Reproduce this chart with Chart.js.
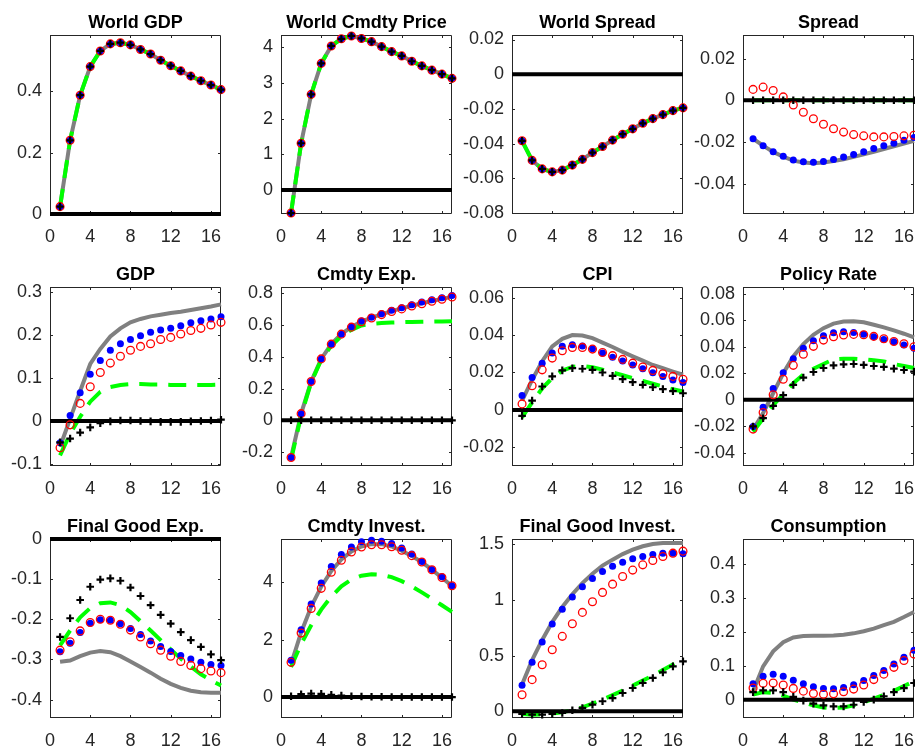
<!DOCTYPE html>
<html>
<head>
<meta charset="utf-8">
<script src="https://cdn.jsdelivr.net/npm/chart.js@4.4.0/dist/chart.umd.min.js"></script>
<style>
  html, body { margin: 0; padding: 0; background: #fff; overflow: hidden; }
  #fig { position: relative; width: 915px; height: 749px; overflow: hidden; }
  #fig canvas { position: absolute; }
</style>
</head>
<body>
<div id="fig"></div>
<script>
// Impulse responses, quarters 1..17
const periods = [1, 2, 3, 4, 5, 6, 7, 8, 9, 10, 11, 12, 13, 14, 15, 16, 17];
const xTicks = [0, 4, 8, 12, 16];
const xLimits = [0, 17];

// World block: all model variants coincide
const worldGdp = [0.024, 0.24, 0.387, 0.48, 0.531, 0.554, 0.558, 0.551, 0.536, 0.521, 0.501, 0.483, 0.466, 0.449, 0.434, 0.42, 0.405];
const worldCmdtyPrice = [-0.65, 1.31, 2.68, 3.55, 4.04, 4.24, 4.32, 4.25, 4.16, 4.02, 3.88, 3.76, 3.61, 3.48, 3.36, 3.25, 3.13];
const worldSpread = [-0.0384, -0.0497, -0.0546, -0.0563, -0.0553, -0.0524, -0.0491, -0.0452, -0.0417, -0.038, -0.0346, -0.0315, -0.0283, -0.0256, -0.0233, -0.021, -0.0194];

// Spread
const spreadGrey = [-0.0185, -0.0218, -0.0248, -0.0271, -0.029, -0.0299, -0.0302, -0.0299, -0.0292, -0.0283, -0.0272, -0.026, -0.0247, -0.0234, -0.0221, -0.0208, -0.0195];
const spreadBlue = [-0.0185, -0.0218, -0.0247, -0.0269, -0.0287, -0.0295, -0.0298, -0.0294, -0.0284, -0.0273, -0.026, -0.0247, -0.0232, -0.0219, -0.0206, -0.0192, -0.0179];
const spreadRed = [0.0052, 0.0063, 0.0047, 0.0016, -0.0023, -0.0058, -0.0089, -0.0115, -0.0137, -0.0153, -0.0165, -0.0171, -0.0176, -0.0176, -0.0174, -0.0171, -0.0168];
const spreadGreen = [0, 0, 0, 0, 0, 0, 0, 0, 0, 0, 0, 0, 0, 0, 0, 0, 0];
const spreadBlack = [0, 0, 0, 0, 0, 0, 0, 0, 0, 0, 0, 0, 0, 0, 0, 0, 0];

// GDP
const gdpGrey = [-0.06, 0.005, 0.07, 0.133, 0.168, 0.197, 0.216, 0.23, 0.238, 0.244, 0.248, 0.252, 0.255, 0.259, 0.263, 0.267, 0.272];
const gdpBlue = [-0.051, 0.0125, 0.066, 0.109, 0.141, 0.165, 0.18, 0.19, 0.199, 0.207, 0.212, 0.216, 0.222, 0.229, 0.234, 0.238, 0.243];
const gdpRed = [-0.0625, -0.009, 0.041, 0.08, 0.113, 0.135, 0.151, 0.165, 0.174, 0.18, 0.19, 0.195, 0.203, 0.211, 0.216, 0.224, 0.23];
const gdpGreen = [-0.08, -0.03, 0.01, 0.045, 0.068, 0.079, 0.084, 0.086, 0.086, 0.085, 0.085, 0.084, 0.084, 0.084, 0.084, 0.084, 0.085];
const gdpBlack = [-0.05, -0.041, -0.027, -0.015, -0.005, -0.001, 0.001, 0.001, 0, -0.001, -0.002, -0.002, -0.002, -0.001, 0, 0.001, 0.003];

// Commodity exports
const cmdtyExpGrey = [-0.234, 0.042, 0.244, 0.387, 0.48, 0.543, 0.589, 0.622, 0.647, 0.668, 0.688, 0.705, 0.722, 0.738, 0.752, 0.765, 0.778];
const cmdtyExpBlue = [-0.234, 0.042, 0.244, 0.387, 0.48, 0.543, 0.589, 0.625, 0.65, 0.672, 0.693, 0.709, 0.728, 0.745, 0.76, 0.773, 0.787];
const cmdtyExpRed = [-0.234, 0.042, 0.244, 0.387, 0.48, 0.543, 0.587, 0.621, 0.645, 0.666, 0.686, 0.702, 0.72, 0.735, 0.75, 0.763, 0.777];
const cmdtyExpGreen = [-0.25, 0.03, 0.24, 0.38, 0.47, 0.53, 0.57, 0.598, 0.608, 0.613, 0.616, 0.618, 0.62, 0.621, 0.622, 0.623, 0.624];
const cmdtyExpBlack = [0, 0, 0, 0, 0, 0, 0, 0, 0, 0, 0, 0, 0, 0, 0, 0, 0];

// CPI
const cpiGrey = [0.005, 0.016, 0.026, 0.034, 0.038, 0.04, 0.0398, 0.0384, 0.036, 0.0336, 0.031, 0.0286, 0.0263, 0.024, 0.0223, 0.0205, 0.0188];
const cpiBlue = [0.0077, 0.0173, 0.025, 0.0304, 0.034, 0.0348, 0.0341, 0.0327, 0.0304, 0.0282, 0.0262, 0.024, 0.022, 0.0198, 0.0179, 0.016, 0.0146];
const cpiRed = [0.0032, 0.0129, 0.0214, 0.0277, 0.0316, 0.0334, 0.0334, 0.0325, 0.0307, 0.029, 0.027, 0.025, 0.0229, 0.0211, 0.0193, 0.0179, 0.0164];
const cpiGreen = [-0.004, 0.004, 0.0115, 0.017, 0.021, 0.023, 0.0235, 0.0228, 0.0215, 0.02, 0.0185, 0.017, 0.0155, 0.014, 0.0125, 0.011, 0.0098];
const cpiBlack = [-0.0032, 0.005, 0.0125, 0.0179, 0.0211, 0.0223, 0.022, 0.0214, 0.02, 0.0182, 0.0164, 0.0148, 0.0134, 0.0121, 0.0111, 0.01, 0.0089];

// Policy rate
const policyGrey = [-0.0226, -0.01, 0.005, 0.02, 0.0327, 0.042, 0.049, 0.054, 0.0574, 0.059, 0.0592, 0.0584, 0.0566, 0.0546, 0.0523, 0.0498, 0.047];
const policyBlue = [-0.02, -0.0055, 0.0085, 0.0205, 0.031, 0.0388, 0.0445, 0.0483, 0.0505, 0.0513, 0.0508, 0.0495, 0.0475, 0.0455, 0.0438, 0.0413, 0.0388];
const policyRed = [-0.022, -0.0095, 0.0038, 0.0155, 0.026, 0.0343, 0.0403, 0.045, 0.0475, 0.0488, 0.0493, 0.049, 0.0478, 0.046, 0.044, 0.0423, 0.04];
const policyGreen = [-0.024, -0.014, -0.004, 0.004, 0.0125, 0.019, 0.0235, 0.027, 0.0305, 0.031, 0.031, 0.0305, 0.0298, 0.029, 0.027, 0.0255, 0.024];
const policyBlack = [-0.02, -0.0138, -0.0045, 0.0035, 0.0113, 0.0168, 0.021, 0.024, 0.026, 0.0268, 0.027, 0.0263, 0.0255, 0.0248, 0.0235, 0.0225, 0.0213];

// Final good exports
const fgExpGrey = [-0.306, -0.303, -0.292, -0.283, -0.279, -0.282, -0.292, -0.305, -0.319, -0.333, -0.348, -0.361, -0.371, -0.378, -0.382, -0.383, -0.383];
const fgExpBlue = [-0.281, -0.26, -0.233, -0.21, -0.201, -0.2025, -0.211, -0.223, -0.238, -0.254, -0.268, -0.28, -0.29, -0.299, -0.307, -0.3125, -0.315];
const fgExpRed = [-0.277, -0.256, -0.229, -0.208, -0.2, -0.2025, -0.2125, -0.227, -0.244, -0.261, -0.277, -0.292, -0.305, -0.315, -0.323, -0.329, -0.333];
const fgExpGreen = [-0.265, -0.228, -0.195, -0.172, -0.16, -0.158, -0.165, -0.182, -0.205, -0.228, -0.252, -0.275, -0.298, -0.318, -0.337, -0.352, -0.365];
const fgExpBlack = [-0.244, -0.1975, -0.152, -0.119, -0.101, -0.098, -0.104, -0.121, -0.142, -0.165, -0.189, -0.211, -0.232, -0.252, -0.269, -0.2875, -0.302];

// Commodity investment
const cmdtyInvGrey = [1.15, 2.25, 3.15, 3.85, 4.4, 4.8, 5.08, 5.25, 5.33, 5.33, 5.25, 5.1, 4.92, 4.7, 4.44, 4.16, 3.87];
const cmdtyInvBlue = [1.28, 2.35, 3.24, 3.98, 4.55, 4.97, 5.23, 5.41, 5.47, 5.43, 5.35, 5.2, 4.99, 4.73, 4.45, 4.19, 3.88];
const cmdtyInvRed = [1.21, 2.23, 3.09, 3.79, 4.35, 4.77, 5.06, 5.23, 5.31, 5.31, 5.24, 5.12, 4.93, 4.71, 4.44, 4.17, 3.88];
const cmdtyInvGreen = [1.05, 1.85, 2.5, 3.05, 3.5, 3.86, 4.1, 4.23, 4.28, 4.26, 4.18, 4.04, 3.86, 3.65, 3.43, 3.2, 2.97];
const cmdtyInvBlack = [0.03, 0.1, 0.12, 0.11, 0.08, 0.05, 0.03, 0.02, 0.01, 0.01, 0, 0, 0, 0, 0, 0, 0];

// Final good investment
const fgInvGrey = [0.24, 0.46, 0.64, 0.8, 0.935, 1.05, 1.15, 1.234, 1.306, 1.36, 1.41, 1.45, 1.48, 1.5, 1.51, 1.51, 1.51];
const fgInvBlue = [0.233, 0.439, 0.621, 0.782, 0.916, 1.024, 1.116, 1.191, 1.254, 1.301, 1.337, 1.367, 1.388, 1.406, 1.418, 1.418, 1.412];
const fgInvRed = [0.149, 0.284, 0.418, 0.552, 0.672, 0.785, 0.887, 0.982, 1.066, 1.14, 1.209, 1.266, 1.313, 1.352, 1.388, 1.418, 1.436];
const fgInvGreen = [-0.025, -0.03, -0.028, -0.02, -0.008, 0.01, 0.035, 0.07, 0.105, 0.145, 0.185, 0.23, 0.275, 0.32, 0.37, 0.42, 0.475];
const fgInvBlack = [-0.024, -0.03, -0.03, -0.024, -0.015, 0.009, 0.03, 0.06, 0.09, 0.119, 0.164, 0.209, 0.254, 0.299, 0.349, 0.403, 0.448];

// Consumption
const consGrey = [0.025, 0.098, 0.142, 0.169, 0.183, 0.187, 0.188, 0.188, 0.189, 0.191, 0.195, 0.201, 0.209, 0.219, 0.229, 0.243, 0.258];
const consBlue = [0.047, 0.069, 0.075, 0.069, 0.057, 0.047, 0.038, 0.033, 0.032, 0.036, 0.044, 0.056, 0.071, 0.086, 0.105, 0.125, 0.145];
const consRed = [0.034, 0.048, 0.049, 0.043, 0.033, 0.025, 0.018, 0.016, 0.017, 0.023, 0.031, 0.043, 0.059, 0.075, 0.095, 0.115, 0.134];
const consGreen = [0.015, 0.022, 0.02, 0.012, 0, -0.008, -0.017, -0.023, -0.025, -0.023, -0.017, -0.008, 0.003, 0.014, 0.026, 0.04, 0.054];
const consBlack = [0.022, 0.027, 0.027, 0.022, 0.008, -0.003, -0.012, -0.017, -0.02, -0.02, -0.015, -0.007, 0, 0.01, 0.022, 0.034, 0.049];

// y-axis ticks and limits per panel
const worldGdpTicks = [0, 0.2, 0.4];                        const worldGdpLim = [0, 0.583];
const worldCmdtyTicks = [0, 1, 2, 3, 4];                    const worldCmdtyLim = [-0.676, 4.347];
const worldSpreadTicks = [-0.08, -0.06, -0.04, -0.02, 0, 0.02]; const worldSpreadLim = [-0.0806, 0.0226];
const spreadTicks = [-0.04, -0.02, 0, 0.02];                const spreadLim = [-0.0546, 0.0313];
const gdpTicks = [-0.1, 0, 0.1, 0.2, 0.3];                  const gdpLim = [-0.105, 0.3125];
const cmdtyExpTicks = [-0.2, 0, 0.2, 0.4, 0.6, 0.8];        const cmdtyExpLim = [-0.288, 0.84];
const cpiTicks = [-0.02, 0, 0.02, 0.04, 0.06];              const cpiLim = [-0.03, 0.0657];
const policyTicks = [-0.04, -0.02, 0, 0.02, 0.04, 0.06, 0.08]; const policyLim = [-0.0498, 0.085];
const fgExpTicks = [-0.4, -0.3, -0.2, -0.1, 0];             const fgExpLim = [-0.446, 0];
const cmdtyInvTicks = [0, 2, 4];                            const cmdtyInvLim = [-0.73, 5.51];
const fgInvTicks = [0, 0.5, 1, 1.5];                        const fgInvLim = [-0.06, 1.545];
const consTicks = [0, 0.1, 0.2, 0.3, 0.4];                  const consLim = [-0.054, 0.4725];

const panels = [
  { title: 'World GDP', grey: worldGdp, blue: worldGdp, red: worldGdp, green: worldGdp, black: worldGdp, ticks: worldGdpTicks, lim: worldGdpLim },
  { title: 'World Cmdty Price', grey: worldCmdtyPrice, blue: worldCmdtyPrice, red: worldCmdtyPrice, green: worldCmdtyPrice, black: worldCmdtyPrice, ticks: worldCmdtyTicks, lim: worldCmdtyLim },
  { title: 'World Spread', grey: worldSpread, blue: worldSpread, red: worldSpread, green: worldSpread, black: worldSpread, ticks: worldSpreadTicks, lim: worldSpreadLim },
  { title: 'Spread', grey: spreadGrey, blue: spreadBlue, red: spreadRed, green: spreadGreen, black: spreadBlack, ticks: spreadTicks, lim: spreadLim },
  { title: 'GDP', grey: gdpGrey, blue: gdpBlue, red: gdpRed, green: gdpGreen, black: gdpBlack, ticks: gdpTicks, lim: gdpLim },
  { title: 'Cmdty Exp.', grey: cmdtyExpGrey, blue: cmdtyExpBlue, red: cmdtyExpRed, green: cmdtyExpGreen, black: cmdtyExpBlack, ticks: cmdtyExpTicks, lim: cmdtyExpLim },
  { title: 'CPI', grey: cpiGrey, blue: cpiBlue, red: cpiRed, green: cpiGreen, black: cpiBlack, ticks: cpiTicks, lim: cpiLim },
  { title: 'Policy Rate', grey: policyGrey, blue: policyBlue, red: policyRed, green: policyGreen, black: policyBlack, ticks: policyTicks, lim: policyLim },
  { title: 'Final Good Exp.', grey: fgExpGrey, blue: fgExpBlue, red: fgExpRed, green: fgExpGreen, black: fgExpBlack, ticks: fgExpTicks, lim: fgExpLim },
  { title: 'Cmdty Invest.', grey: cmdtyInvGrey, blue: cmdtyInvBlue, red: cmdtyInvRed, green: cmdtyInvGreen, black: cmdtyInvBlack, ticks: cmdtyInvTicks, lim: cmdtyInvLim },
  { title: 'Final Good Invest.', grey: fgInvGrey, blue: fgInvBlue, red: fgInvRed, green: fgInvGreen, black: fgInvBlack, ticks: fgInvTicks, lim: fgInvLim },
  { title: 'Consumption', grey: consGrey, blue: consBlue, red: consRed, green: consGreen, black: consBlack, ticks: consTicks, lim: consLim }
];

// grid geometry (plot boxes)
const colLefts = [50, 281, 512, 743];
const rowTops = [35, 287, 539];
const PLOT_W = 171, PLOT_H = 179;
const AXIS_W = 58, TITLE_H = 35, XAXIS_H = 34;
const TICK_LEN = 3;
const AXIS_COLOR = '#262626';
const FONT = "'Liberation Sans', Arial, Helvetica, sans-serif";

Chart.defaults.font.family = FONT;

// box round the axes with inward tick marks on all four sides
const frameBox = {
  id: 'frameBox',
  beforeDatasetsDraw(chart) {
    const { ctx, chartArea: a, scales: { x, y } } = chart;
    ctx.save();
    ctx.strokeStyle = AXIS_COLOR;
    ctx.lineWidth = 1;
    ctx.beginPath();
    ctx.rect(a.left + 0.5, a.top + 0.5, a.width - 1, a.height - 1);
    x.ticks.forEach(t => {
      const px = Math.round(x.getPixelForValue(t.value)) + 0.5;
      ctx.moveTo(px, a.bottom); ctx.lineTo(px, a.bottom - TICK_LEN);
      ctx.moveTo(px, a.top); ctx.lineTo(px, a.top + TICK_LEN);
    });
    y.ticks.forEach(t => {
      const py = Math.round(y.getPixelForValue(t.value)) + 0.5;
      ctx.moveTo(a.left, py); ctx.lineTo(a.left + TICK_LEN, py);
      ctx.moveTo(a.right, py); ctx.lineTo(a.right - TICK_LEN, py);
    });
    ctx.stroke();
    ctx.restore();
  }
};

const toXY = vals => vals.map((v, k) => ({ x: periods[k], y: v }));
const fig = document.getElementById('fig');

panels.forEach((p, i) => {
  const canvas = document.createElement('canvas');
  canvas.width = AXIS_W * 2 + PLOT_W;
  canvas.height = TITLE_H + PLOT_H + XAXIS_H;
  canvas.style.left = (colLefts[i % 4] - AXIS_W) + 'px';
  canvas.style.top = (rowTops[Math.floor(i / 4)] - TITLE_H) + 'px';
  canvas.style.width = canvas.width + 'px';
  canvas.style.height = canvas.height + 'px';
  fig.appendChild(canvas);

  new Chart(canvas, {
    type: 'line',
    data: {
      // first dataset is drawn on top
      datasets: [
        { data: toXY(p.black), showLine: false, pointStyle: 'cross', pointRadius: 3.8,
          pointBorderWidth: 2.2, pointBorderColor: '#000', clip: false },
        { data: toXY(p.red), showLine: false, pointStyle: 'circle', pointRadius: 3.9,
          pointBorderWidth: 1.3, pointBorderColor: '#ff0000', pointBackgroundColor: 'rgba(0,0,0,0)', clip: false },
        { data: toXY(p.blue), showLine: false, pointStyle: 'circle', pointRadius: 3.5,
          pointBorderWidth: 0, pointBackgroundColor: '#0000ff', clip: false },
        { data: xLimits.map(x => ({ x, y: 0 })), borderColor: '#000', borderWidth: 4, pointRadius: 0, clip: false },
        { data: toXY(p.green), borderColor: '#00ff00', borderWidth: 4, borderDash: [18, 11], pointRadius: 0, clip: false },
        { data: toXY(p.grey), borderColor: '#808080', borderWidth: 4, pointRadius: 0, clip: false }
      ]
    },
    options: {
      responsive: false,
      animation: false,
      devicePixelRatio: 1,
      layout: { padding: { left: 0, right: AXIS_W, top: 0, bottom: 0 } },
      plugins: {
        legend: { display: false },
        tooltip: { enabled: false },
        title: {
          display: true, fullSize: false, text: p.title, color: '#000',
          font: { size: 18, weight: 'bold', family: FONT, lineHeight: 1.2 },
          padding: { top: 12, bottom: TITLE_H - 12 - 21.6 }
        }
      },
      scales: {
        x: {
          type: 'linear', min: xLimits[0], max: xLimits[1],
          grid: { display: false, drawTicks: false },
          border: { display: false },
          ticks: { color: AXIS_COLOR, font: { size: 18 }, padding: 12, maxRotation: 0 },
          afterBuildTicks: s => { s.ticks = xTicks.map(v => ({ value: v })); },
          afterFit: s => { s.height = XAXIS_H; }
        },
        y: {
          type: 'linear', min: p.lim[0], max: p.lim[1],
          grid: { display: false, drawTicks: false },
          border: { display: false },
          ticks: { color: AXIS_COLOR, font: { size: 18 }, padding: 8, callback: v => String(v) },
          afterBuildTicks: s => { s.ticks = p.ticks.map(v => ({ value: v })); },
          afterFit: s => { s.width = AXIS_W; }
        }
      }
    },
    plugins: [frameBox]
  });
});
</script>
</body>
</html>
